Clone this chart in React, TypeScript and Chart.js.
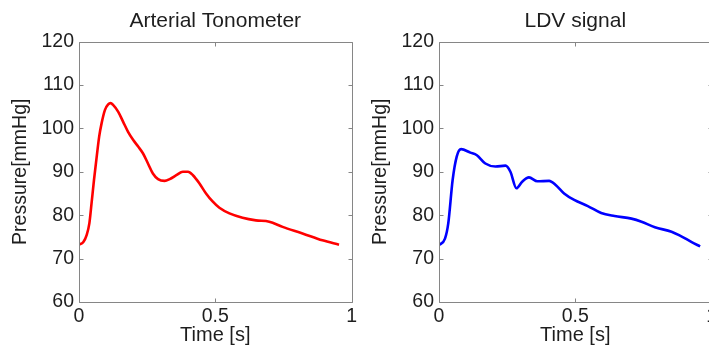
import React, { useEffect, useRef } from "react";
import { Chart, registerables } from "chart.js";

Chart.register(...registerables);

// ---- Data ----
const tonometerTime = [
  0, 0.016, 0.028, 0.038, 0.046, 0.055, 0.065, 0.074, 0.083, 0.095, 0.107, 0.116, 0.125,
  0.144, 0.162, 0.18, 0.199, 0.217, 0.235, 0.253, 0.271, 0.29, 0.314, 0.333, 0.357, 0.381,
  0.4, 0.418, 0.442, 0.466, 0.491, 0.515, 0.552, 0.6, 0.649, 0.698, 0.747, 0.82, 0.893, 0.954,
];
const tonometerPressure = [
  73.2, 73.8, 75.4, 78.1, 82.7, 88.1, 93.5, 98.1, 101.2, 104.2, 105.5, 105.8, 105.4,
  103.8, 101.5, 99.2, 97.3, 95.8, 94.2, 91.9, 89.6, 88.3, 87.9, 88.3, 89.2, 90.0,
  90.0, 89.2, 87.3, 85.0, 83.1, 81.7, 80.4, 79.4, 78.8, 78.5, 77.3, 75.8, 74.2, 73.2,
];

const ldvTime = [
  0, 0.022, 0.034, 0.05, 0.065, 0.081, 0.115, 0.139, 0.17, 0.207, 0.244, 0.262, 0.284,
  0.305, 0.33, 0.361, 0.404, 0.429, 0.459, 0.496, 0.546, 0.595, 0.644, 0.706, 0.743,
  0.792, 0.853, 0.884, 0.927, 0.958,
];
const ldvPressure = [
  73.1, 74.6, 78.1, 88.1, 93.5, 95.2, 94.4, 93.8, 91.9, 91.2, 91.4, 90.0, 86.2,
  87.7, 88.7, 87.8, 87.9, 86.9, 85.0, 83.5, 82.1, 80.5, 79.8, 79.2, 78.5,
  77.2, 76.2, 75.3, 73.8, 72.8,
];

const xTicks = [0, 0.5, 1];
const yTicks = [60, 70, 80, 90, 100, 110, 120];

const titles = ["Arterial Tonometer", "LDV signal"];
const xTitle = "Time [s]";
const yTitle = "Pressure[mmHg]";

const BOX = "#868686";
const TEXT = "#1e1e1e";
const FONT = "'Liberation Sans', Arial, sans-serif";

const boxPlugin = {
  id: "matlabBox",
  afterDatasetsDraw(chart: any, _args: any, opts: any) {
    const { ctx, chartArea: a, scales } = chart;
    const xs = scales.x;
    const ys = scales.y;
    const L = Math.round(a.left) + 0.5;
    const R = Math.round(a.right) + 0.5;
    const T = Math.round(a.top) + 0.5;
    const B = Math.round(a.bottom) + 0.5;
    const len = 4;
    ctx.save();
    ctx.strokeStyle = BOX;
    ctx.lineWidth = 1;
    ctx.beginPath();
    ctx.rect(L, T, R - L, B - T);
    ys.ticks.forEach((t: any) => {
      const py = Math.round(ys.getPixelForValue(t.value)) + 0.5;
      ctx.moveTo(L, py);
      ctx.lineTo(L + len, py);
      ctx.moveTo(R, py);
      ctx.lineTo(R - len, py);
    });
    xs.ticks.forEach((t: any) => {
      const px = Math.round(xs.getPixelForValue(t.value)) + 0.5;
      ctx.moveTo(px, B);
      ctx.lineTo(px, B - len);
      ctx.moveTo(px, T);
      ctx.lineTo(px, T + len);
    });
    ctx.stroke();
    // axes title centred over the plotting area (MATLAB style)
    if (opts && opts.title) {
      ctx.fillStyle = TEXT;
      ctx.font = `21px ${FONT}`;
      ctx.textAlign = "center";
      ctx.textBaseline = "alphabetic";
      ctx.fillText(opts.title, (a.left + a.right) / 2, 27);
    }
    ctx.restore();
  },
};

function makeConfig(title: string, xsArr: number[], ysArr: number[], color: string): any {
  const pts = xsArr.map((x, i) => ({ x, y: ysArr[i] }));
  return {
    type: "line",
    data: {
      datasets: [
        {
          data: pts,
          borderColor: color,
          borderWidth: 2.6,
          pointRadius: 0,
          cubicInterpolationMode: "monotone",
          fill: false,
        },
      ],
    },
    plugins: [boxPlugin],
    options: {
      animation: false,
      responsive: false,
      events: [],
      layout: { padding: { left: 0, right: 8, top: 41.5, bottom: 0 } },
      plugins: {
        legend: { display: false },
        tooltip: { enabled: false },
        title: { display: false },
        matlabBox: { title },
      },
      scales: {
        x: {
          type: "linear",
          min: 0,
          max: 1,
          afterBuildTicks: (s: any) => {
            s.ticks = xTicks.map((v) => ({ value: v }));
          },
          afterFit: (s: any) => {
            s.height = 45;
          },
          grid: { display: false, drawTicks: false },
          border: { display: false },
          ticks: {
            color: TEXT,
            padding: 3,
            maxRotation: 0,
            autoSkip: false,
            font: { family: FONT, size: 19.5, lineHeight: 1.2 },
            callback: (v: any) => String(v),
          },
          title: {
            display: true,
            text: xTitle,
            color: TEXT,
            font: { family: FONT, size: 20, lineHeight: 1.2 },
            padding: { top: 0, bottom: 0 },
          },
        },
        y: {
          type: "linear",
          min: 60,
          max: 120,
          afterBuildTicks: (s: any) => {
            s.ticks = yTicks.map((v) => ({ value: v }));
          },
          afterFit: (s: any) => {
            s.width = 79;
          },
          grid: { display: false, drawTicks: false },
          border: { display: false },
          ticks: {
            color: TEXT,
            padding: 5,
            autoSkip: false,
            font: { family: FONT, size: 19.5, lineHeight: 1.2 },
            callback: (v: any) => String(v),
          },
          title: {
            display: true,
            text: yTitle,
            color: TEXT,
            font: { family: FONT, size: 19.5, lineHeight: 1.2 },
            padding: { top: 9, bottom: 0 },
          },
        },
      },
    },
  };
}

function Panel(props: { left: number; title: string; xs: number[]; ys: number[]; color: string }) {
  const ref = useRef<HTMLCanvasElement | null>(null);
  useEffect(() => {
    if (!ref.current) return;
    const chart = new Chart(ref.current, makeConfig(props.title, props.xs, props.ys, props.color));
    return () => chart.destroy();
  }, []);
  return (
    <canvas
      ref={ref}
      width={360}
      height={347}
      style={{ position: "absolute", left: props.left, top: 0, width: 360, height: 347 }}
    />
  );
}

export default function App() {
  return (
    <div
      style={{
        position: "absolute",
        left: 0,
        top: 0,
        width: 709,
        height: 347,
        overflow: "hidden",
        background: "#ffffff",
      }}
    >
      <Panel left={0} title={titles[0]} xs={tonometerTime} ys={tonometerPressure} color="#ff0000" />
      <Panel left={360} title={titles[1]} xs={ldvTime} ys={ldvPressure} color="#0000ff" />
    </div>
  );
}
